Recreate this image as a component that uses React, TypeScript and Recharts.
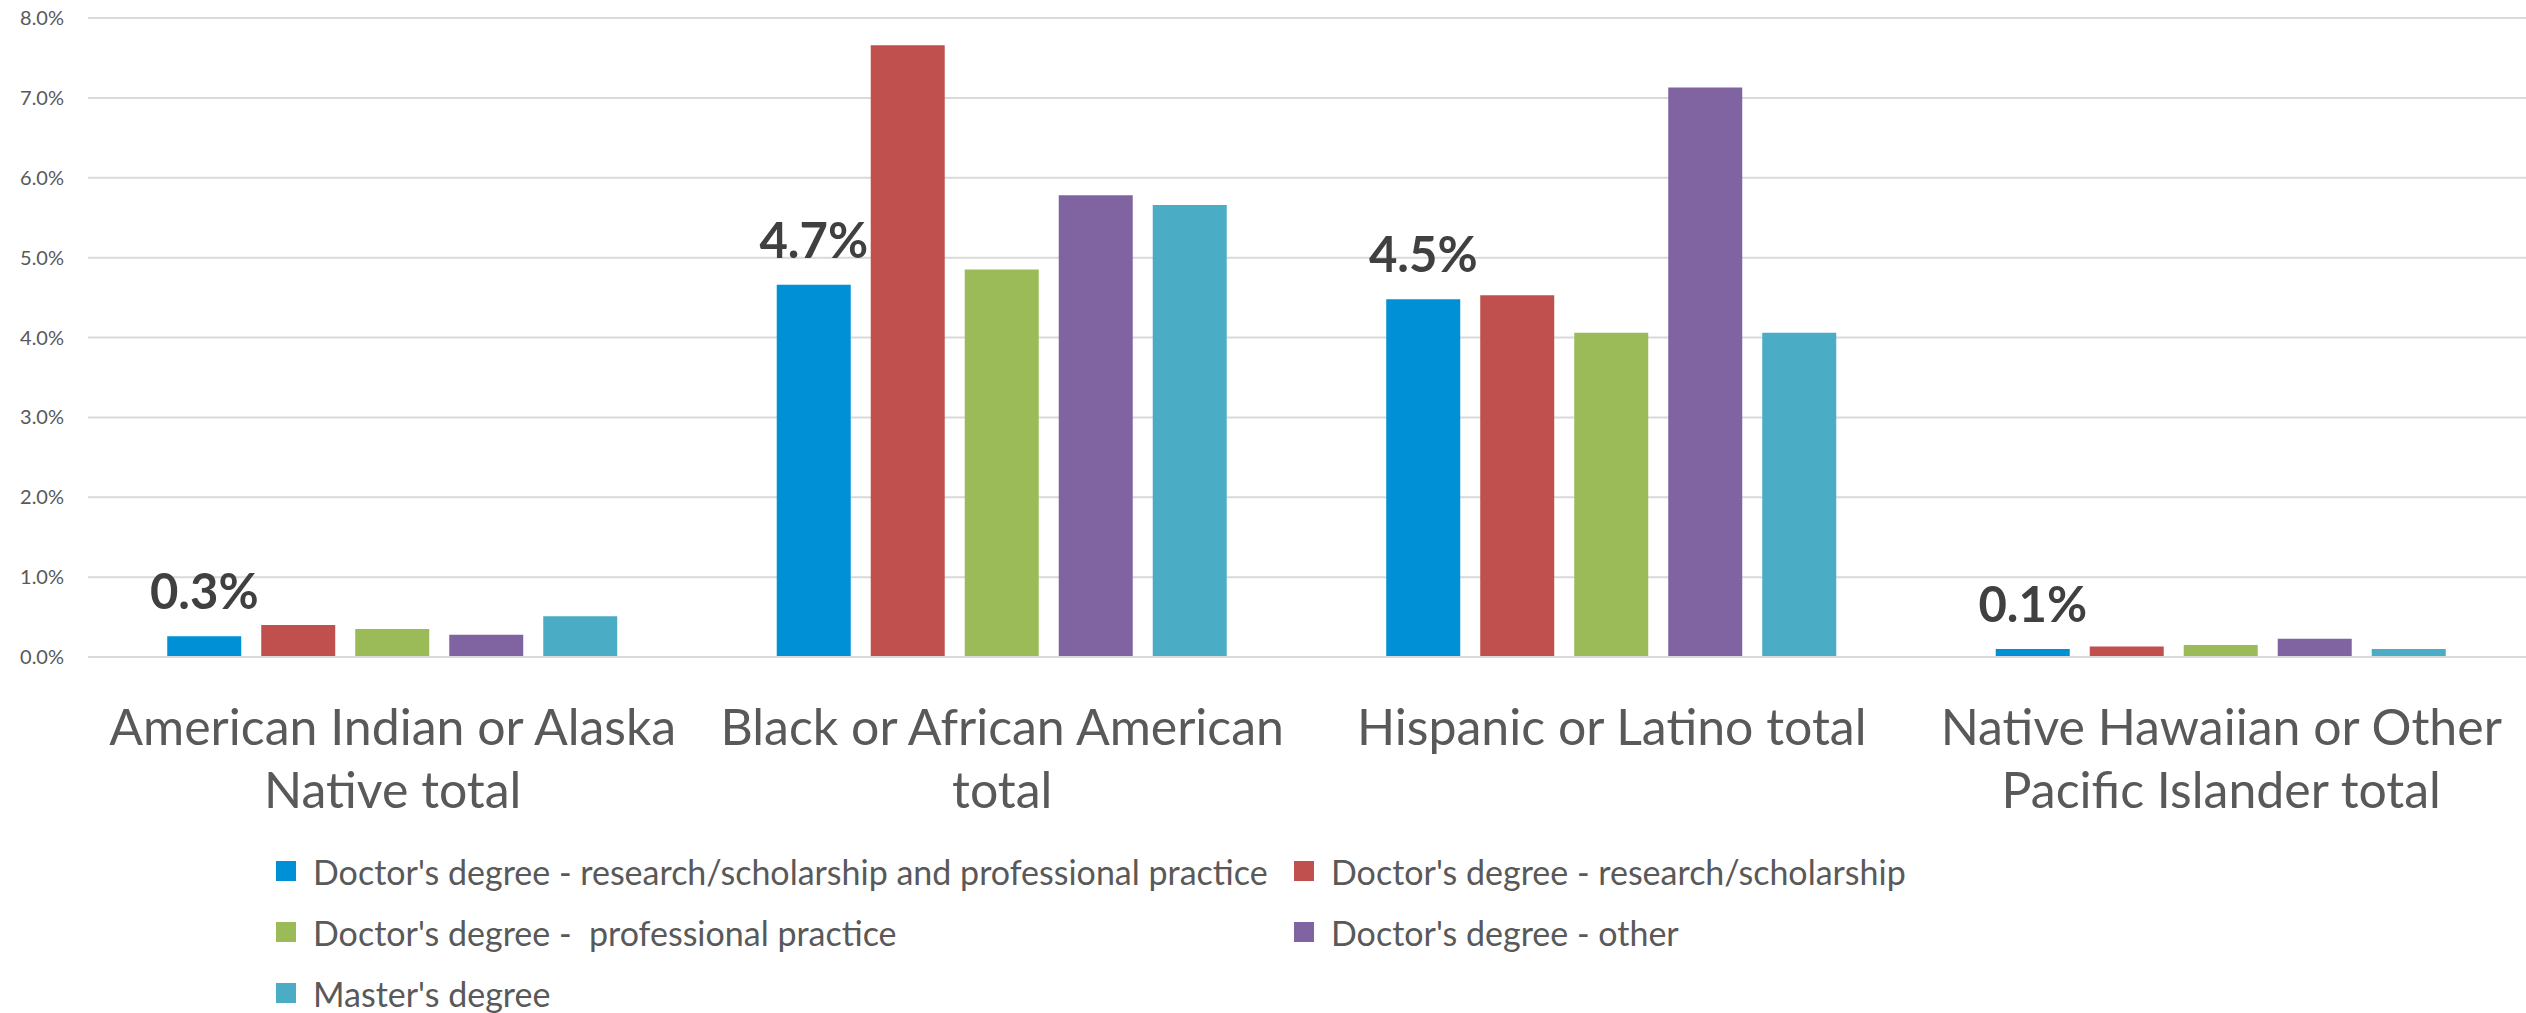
import React from "react";
import { BarChart, Bar, XAxis, YAxis, CartesianGrid, LabelList } from "recharts";

const categories = [
  "American Indian or Alaska Native total",
  "Black or African American total",
  "Hispanic or Latino total",
  "Native Hawaiian or Other Pacific Islander total",
];
const categoryLines = [
  ["American Indian or Alaska", "Native total"],
  ["Black or African American", "total"],
  ["Hispanic or Latino total"],
  ["Native Hawaiian or Other", "Pacific Islander total"],
];

const seriesNames = [
  "Doctor's degree - research/scholarship and professional practice",
  "Doctor's degree - research/scholarship",
  "Doctor's degree -  professional practice",
  "Doctor's degree - other",
  "Master's degree",
];
const seriesColors = ["#0090D5", "#C0504D", "#9BBB59", "#8064A2", "#4BACC6"];

const researchAndPractice = [0.26, 4.66, 4.48, 0.1];
const researchScholarship = [0.4, 7.66, 4.53, 0.13];
const professionalPractice = [0.35, 4.85, 4.06, 0.15];
const doctorOther = [0.28, 5.78, 7.13, 0.23];
const masters = [0.51, 5.66, 4.06, 0.1];

const yTicks = [0, 1, 2, 3, 4, 5, 6, 7, 8];

const seriesValues = [researchAndPractice, researchScholarship, professionalPractice, doctorOther, masters];
const seriesKeys = ["s0", "s1", "s2", "s3", "s4"];

const data = categories.map((c, i) => {
  const row: any = { category: c };
  seriesKeys.forEach((k, j) => {
    row[k] = seriesValues[j][i];
  });
  return row;
});

const FONT = "Lato, 'Open Sans', sans-serif";

const CategoryTick = (props: any) => {
  const { x, y, payload } = props;
  const idx = categories.indexOf(payload.value);
  const lines = categoryLines[idx] || [payload.value];
  return (
    <text x={x} y={y} textAnchor="middle" fill="#595959" fontSize={50} fontFamily={FONT}>
      {lines.map((l, i) => (
        <tspan key={i} x={x} dy={i === 0 ? 88 : 63}>
          {l}
        </tspan>
      ))}
    </text>
  );
};

const legendCols = [276, 1294];
const legendRows = [871, 932, 993];

export default function App() {
  return (
    <div style={{ position: "absolute", left: 0, top: 0, width: 2526, height: 1013, background: "#fff" }}>
      <BarChart
        width={2526}
        height={1013}
        data={data}
        margin={{ top: 18, right: 0, left: 0, bottom: 0 }}
        barCategoryGap="13%"
        barGap={20}
      >
        <CartesianGrid vertical={false} stroke="#D9D9D9" strokeWidth={2} />
        <XAxis
          dataKey="category"
          height={356}
          tickSize={0}
          tickMargin={0}
          axisLine={{ stroke: "#D9D9D9", strokeWidth: 2 }}
          tickLine={false}
          interval={0}
          tick={<CategoryTick />}
        />
        <YAxis
          width={88}
          domain={[0, 8]}
          ticks={yTicks}
          tickSize={0}
          tickMargin={24}
          axisLine={false}
          tickLine={false}
          tickFormatter={(v: number) => v.toFixed(1) + "%"}
          tick={{ fill: "#595959", fontSize: 20, fontFamily: FONT }}
        />
        {seriesKeys.map((k, j) => (
          <Bar key={k} dataKey={k} name={seriesNames[j]} fill={seriesColors[j]} isAnimationActive={false}>
            {j === 0 ? (
              <LabelList
                dataKey={k}
                position="top"
                offset={27}
                formatter={(v: any) => Number(v).toFixed(1) + "%"}
                style={{ fill: "#404040", fontSize: 49, fontWeight: 700, fontFamily: FONT }}
              />
            ) : null}
          </Bar>
        ))}
      </BarChart>
      {seriesNames.map((n, j) => {
        const col = legendCols[j % 2];
        const row = legendRows[Math.floor(j / 2)];
        return (
          <div
            key={n}
            style={{
              position: "absolute",
              left: col,
              top: row - 20,
              height: 40,
              display: "flex",
              alignItems: "center",
              fontFamily: FONT,
              fontSize: 34,
              color: "#595959",
              whiteSpace: "pre",
            }}
          >
            <span style={{ display: "inline-block", width: 20, height: 20, background: seriesColors[j], marginRight: 17, flexShrink: 0 }} />
            <span>{n}</span>
          </div>
        );
      })}
    </div>
  );
}
